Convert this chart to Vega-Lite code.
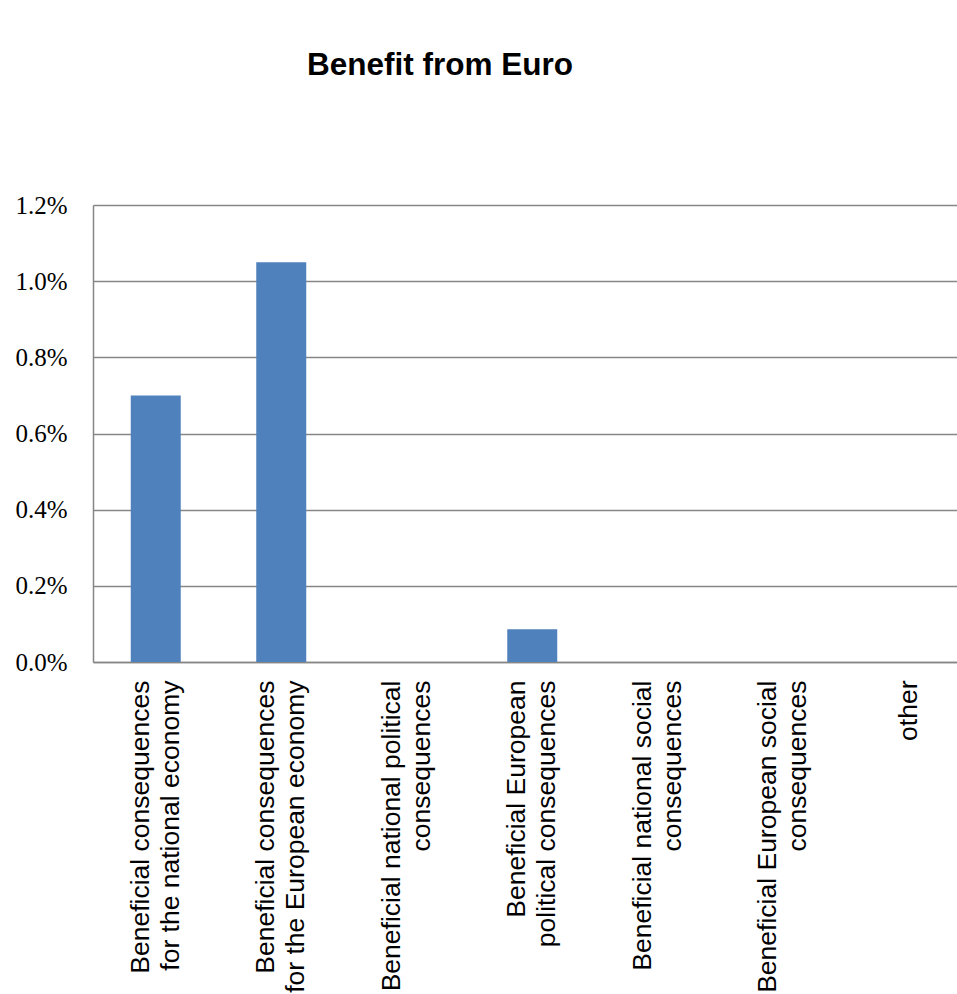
{
  "$schema": "https://vega.github.io/schema/vega-lite/v6.json",
  "width": 864,
  "height": 457,
  "autosize": {"type": "none"},
  "padding": {"left": 93, "top": 205, "right": 0, "bottom": 332},
  "background": "white",
  "title": {
    "text": "Benefit from Euro",
    "font": "Liberation Sans",
    "fontSize": 31.5,
    "fontWeight": "bold",
    "color": "black",
    "anchor": "start",
    "frame": "group",
    "dx": 214,
    "baseline": "alphabetic",
    "offset": 87
  },
  "data": {
    "values": [
      {"category": "Beneficial consequences|for the national economy", "value": 0.0070},
      {"category": "Beneficial consequences|for the European economy", "value": 0.0105},
      {"category": "Beneficial national political|consequences", "value": 0.0},
      {"category": "Beneficial European|political consequences", "value": 0.00086},
      {"category": "Beneficial national social|consequences", "value": 0.0},
      {"category": "Beneficial European social|consequences", "value": 0.0},
      {"category": "other", "value": 0.0}
    ]
  },
  "mark": {"type": "bar", "color": "#4F81BD"},
  "encoding": {
    "x": {
      "field": "category",
      "type": "nominal",
      "sort": null,
      "title": null,
      "scale": {"paddingInner": 0.6016, "paddingOuter": 0.3008, "range": [0, 878.5]},
      "axis": {
        "labelExpr": "split(datum.label, '|')",
        "labelAngle": -90,
        "labelAlign": "right",
        "labelBaseline": "middle",
        "labelPadding": 18,
        "labelOffset": {"condition": {"test": "datum.value === 'other'", "value": 0}, "value": -15},
        "labelFont": "Liberation Sans",
        "labelFontSize": 26.5,
        "labelLineHeight": 30,
        "labelColor": "black",
        "labelLimit": 1000,
        "labelOverlap": false,
        "ticks": false,
        "domainColor": "#868686",
        "domainWidth": 1.5,
        "grid": false
      }
    },
    "y": {
      "field": "value",
      "type": "quantitative",
      "title": null,
      "scale": {"domain": [0, 0.012], "nice": false},
      "axis": {
        "values": [0, 0.002, 0.004, 0.006, 0.008, 0.010, 0.012],
        "format": ".1%",
        "labelFont": "Liberation Serif",
        "labelFontSize": 25,
        "labelColor": "black",
        "labelPadding": 26,
        "ticks": false,
        "domainColor": "#868686",
        "domainWidth": 1.5,
        "gridColor": "#868686",
        "gridWidth": 1.5
      }
    }
  },
  "config": {"view": {"stroke": null}}
}
